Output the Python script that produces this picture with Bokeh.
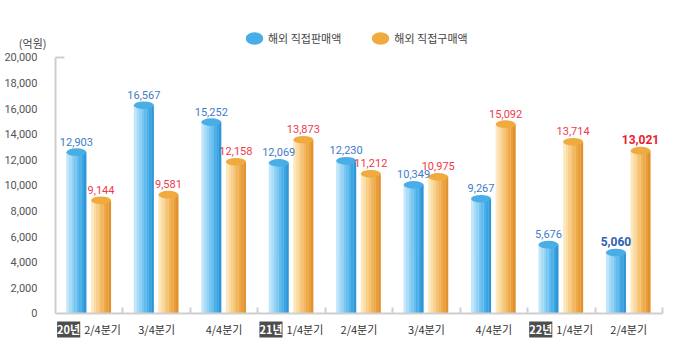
from bokeh.plotting import figure
from bokeh.models import (ColumnDataSource, LabelSet, Label, Legend, LegendItem,
                          FixedTicker, Range1d, NumeralTickFormatter, LinearAxis)
from bokeh.core.properties import value
from bokeh.embed import file_html
from bokeh.resources import INLINE

# ---------------- data ----------------
quarters = ["2/4분기", "3/4분기", "4/4분기", "1/4분기", "2/4분기", "3/4분기", "4/4분기", "1/4분기", "2/4분기"]
years = ["20년", "", "", "21년", "", "", "", "22년", ""]
sales = [12903, 16567, 15252, 12069, 12230, 10349, 9267, 5676, 5060]          # 해외 직접판매액
purchases = [9144, 9581, 12158, 13873, 11212, 10975, 15092, 13714, 13021]     # 해외 직접구매액
series_names = ["해외 직접판매액", "해외 직접구매액"]
y_tick_values = [0, 2000, 4000, 6000, 8000, 10000, 12000, 14000, 16000, 18000, 20000]
unit_label = "(억원)"

# ---------------- style ----------------
KR = "Noto Sans CJK KR"
NUM = "Roboto"
blue_strips = ["#c3e7fa", "#aadcf7", "#92d2f4", "#7ac7f1", "#62bcee", "#4cb0e9", "#3ba4e2", "#2f96d8"]
orange_strips = ["#fde8bf", "#fbdda6", "#f8d08c", "#f5c373", "#f2b65d", "#eeaa49", "#e99e39", "#e1912e"]
blue_top = "#49ade6"
orange_top = "#efab3e"
blue_text = "#3f7cc6"
red_text = "#ef3a4c"
bar_w = 0.295
offsets = [-0.19, 0.175]
cap_h = 600

n = len(quarters)
idx = list(range(n))
y_top = y_tick_values[-1]
nan = float("nan")

p = figure(width=672, height=353, output_backend="svg", toolbar_location=None, title=None,
           x_range=Range1d(-1.3155, 8.649), y_range=Range1d(-3125, 24453),
           min_border_left=0, min_border_right=0, min_border_top=0, min_border_bottom=0)
p.outline_line_color = None
p.xgrid.visible = False
p.ygrid.visible = False
p.background_fill_color = "white"

legend_items = []
for s, (vals, strips, top, tcol) in enumerate([(sales, blue_strips, blue_top, blue_text),
                                                (purchases, orange_strips, orange_top, red_text)]):
    centers = [i + offsets[s] for i in idx]
    body_tops = [v - cap_h / 2 for v in vals]
    ns = len(strips)
    sw = bar_w / ns
    for k, col in enumerate(strips):
        xs = [c + (k - (ns - 1) / 2) * sw for c in centers]
        p.vbar(x=xs, top=body_tops, bottom=0, width=sw * 1.08, fill_color=col, line_color=None)
    p.ellipse(x=centers, y=body_tops, width=bar_w, height=cap_h, fill_color=top, line_color=None)
    # legend swatch (legend only)
    lr = p.ellipse(x=[nan], y=[nan], width=17, height=12, width_units="screen",
                   height_units="screen", fill_color=top, line_color=None)
    legend_items.append(LegendItem(label=series_names[s], renderers=[lr]))

    labels = [f"{v:,}" for v in vals]
    src = ColumnDataSource(dict(x=centers[:-1], y=[v + 200 for v in vals[:-1]], t=labels[:-1]))
    p.add_layout(LabelSet(x="x", y="y", text="t", source=src, text_align="center",
                          text_baseline="bottom", text_font=value(NUM), text_font_size="11px",
                          text_color=tcol))
    src_b = ColumnDataSource(dict(x=centers[-1:], y=[v + 200 for v in vals[-1:]], t=labels[-1:]))
    p.add_layout(LabelSet(x="x", y="y", text="t", source=src_b, text_align="center",
                          text_baseline="bottom", text_font=value(NUM), text_font_size="12px",
                          text_font_style="bold",
                          text_color="#2d62b0" if s == 0 else "#e8202e"))

# axes (placed inside the frame at x=-0.5 / y=0)
p.yaxis.fixed_location = -0.5
p.yaxis.bounds = (0, y_top)
p.yaxis.ticker = FixedTicker(ticks=y_tick_values)
p.yaxis.formatter = NumeralTickFormatter(format="0,0")
p.yaxis.major_tick_line_color = None
p.yaxis.minor_tick_line_color = None
p.yaxis.axis_line_color = "#cfcfcf"
p.yaxis.axis_line_width = 2
p.yaxis.major_label_standoff = 12
p.yaxis.major_label_text_font = NUM
p.yaxis.major_label_text_font_size = "11px"
p.yaxis.major_label_text_color = "#555555"

# small inward tick at the top of the value axis
top_axis = LinearAxis(fixed_location=-0.5, ticker=FixedTicker(ticks=[y_top]),
                      major_label_overrides={y_top: ""}, axis_line_color=None,
                      major_tick_in=9, major_tick_out=0, major_tick_line_color="#cfcfcf",
                      major_tick_line_width=2, minor_tick_line_color=None)
p.add_layout(top_axis, "left")

bounds = [i + 0.5 for i in idx]
p.xaxis.fixed_location = 0
p.xaxis.bounds = (-0.5, n - 0.5)
p.xaxis.ticker = FixedTicker(ticks=bounds)
p.xaxis.major_label_overrides = {b: "" for b in bounds}
p.xaxis.major_tick_in = 6
p.xaxis.major_tick_out = 0
p.xaxis.major_tick_line_color = "#cfcfcf"
p.xaxis.major_tick_line_width = 2
p.xaxis.minor_tick_line_color = None
p.xaxis.axis_line_color = "#cfcfcf"
p.xaxis.axis_line_width = 2

# category labels
label_y = -1250
plain = [i for i in idx if not years[i]]
badged = [i for i in idx if years[i]]
p.add_layout(LabelSet(x="x", y="y", text="t",
                      source=ColumnDataSource(dict(x=plain, y=[label_y] * len(plain),
                                                   t=[quarters[i] for i in plain])),
                      text_align="center", text_baseline="middle", text_font=value(KR),
                      text_font_size="11px", text_color="#333333"))
p.add_layout(LabelSet(x="x", y="y", text="t", x_offset=-5,
                      source=ColumnDataSource(dict(x=badged, y=[label_y] * len(badged),
                                                   t=[quarters[i] for i in badged])),
                      text_align="left", text_baseline="middle", text_font=value(KR),
                      text_font_size="11px", text_color="#333333"))
p.add_layout(LabelSet(x="x", y="y", text="t", x_offset=-9,
                      source=ColumnDataSource(dict(x=badged, y=[label_y] * len(badged),
                                                   t=[years[i] for i in badged])),
                      text_align="right", text_baseline="middle", text_font=value(KR),
                      text_font_size="11px", text_font_style="bold", text_color="white",
                      background_fill_color="#4d4d4d"))

# unit label
p.add_layout(Label(x=46, y=311, x_units="screen", y_units="screen", text=unit_label,
                   text_align="right", text_baseline="middle", text_font=KR,
                   text_font_size="11px", text_color="#444444"))

# legend
legend = Legend(items=legend_items, orientation="horizontal", location=(243, 304),
                glyph_width=22, glyph_height=22, label_standoff=3, spacing=28,
                padding=2, margin=0, border_line_color=None, background_fill_alpha=0,
                label_text_font=KR, label_text_font_size="11px", label_text_color="#444444",
                label_height=12)
p.add_layout(legend, "center")

open("out.html", "w").write(file_html(p, INLINE))
